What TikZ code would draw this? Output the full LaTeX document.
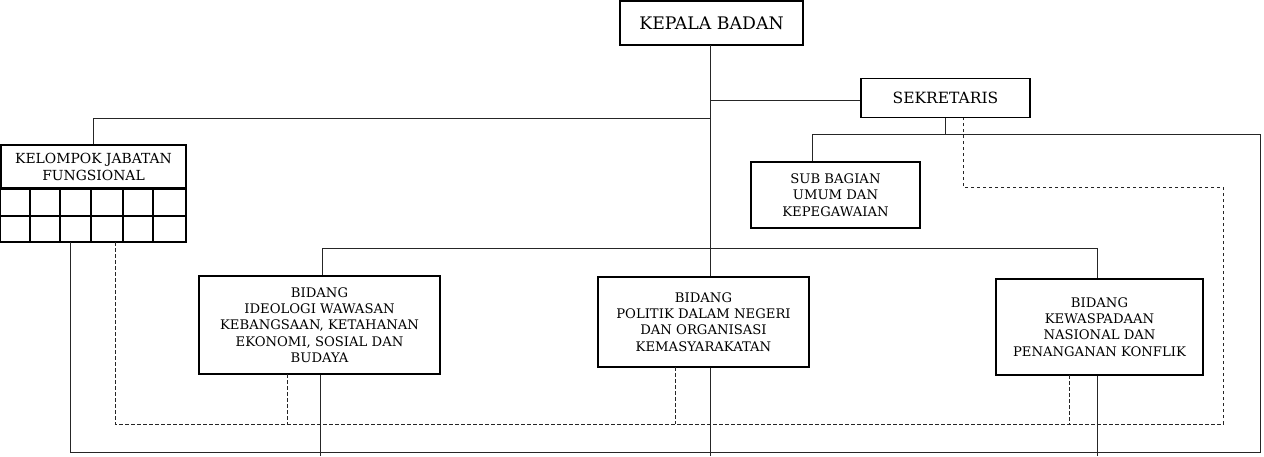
\documentclass[tikz,border=0pt]{standalone}
\usepackage{fontspec}
\setmainfont{DejaVu Serif}
\begin{document}
\begin{tikzpicture}[x=1pt,y=-1pt,
  box/.style={draw=black,line width=1.6pt,inner sep=0pt,align=center,font=\fontsize{13.2}{16.3}\selectfont},
  ln/.style={draw=black!85,line width=0.9pt},
  dl/.style={draw=black!85,line width=0.9pt,dash pattern=on 3.5pt off 2.5pt}]
\useasboundingbox (0,0) rectangle (1264,456);
% boxes
\node[box,minimum width=183pt,minimum height=44pt,font=\fontsize{17.3}{20}\selectfont] (kepala) at (711.5,23) {KEPALA BADAN};
\node[box,minimum width=169pt,minimum height=39pt,font=\fontsize{15.5}{18}\selectfont] (sek) at (945.5,98) {SEKRETARIS};
\node[box,minimum width=185pt,minimum height=43pt,font=\fontsize{13.9}{17}\selectfont] (klp) at (93.5,166.5) {KELOMPOK JABATAN\\FUNGSIONAL};
\node[box,minimum width=169pt,minimum height=66pt] (sub) at (835.5,195) {SUB BAGIAN\\UMUM DAN\\KEPEGAWAIAN};
\node[box,minimum width=241pt,minimum height=98pt] (b1) at (319.5,325) {BIDANG\\IDEOLOGI WAWASAN\\KEBANGSAAN, KETAHANAN\\EKONOMI, SOSIAL DAN\\BUDAYA};
\node[box,minimum width=211pt,minimum height=90pt] (b2) at (703.5,322) {BIDANG\\POLITIK DALAM NEGERI\\DAN ORGANISASI\\KEMASYARAKATAN};
\node[box,minimum width=207pt,minimum height=96pt] (b3) at (1099.5,327) {BIDANG\\KEWASPADAAN\\NASIONAL DAN\\PENANGANAN KONFLIK};
% grid under KELOMPOK
\draw[line width=1.6pt] (klp.south west) rectangle (186,242);
\draw[line width=1.6pt] (1,216) -- (186,216);
\foreach \gx in {30,60,91,123,153} \draw[line width=1.6pt] (\gx,188) -- (\gx,242);
% coordinates
\coordinate (mtop) at (710,45);
\coordinate (jk) at (710,118);
\coordinate (js) at (710,100);
\coordinate (s1) at (812,134);
\coordinate (rc) at (1260,134);
\coordinate (rb) at (1260,452);
\coordinate (lb) at (70,452);
\coordinate (kl) at (70,242);
\coordinate (hb1) at (322,248);
\coordinate (hb3) at (1097,248);
\coordinate (b1d) at (320,456);
\coordinate (b2d) at (710,456);
\coordinate (b3d) at (1097,456);
\coordinate (dk) at (115,242);
\coordinate (d1) at (115,424);
\coordinate (d2) at (1223,424);
\coordinate (d3) at (1223,187);
\coordinate (d4) at (963,187);
\coordinate (d5) at (963,118);
% solid connectors
\draw[ln] (mtop) -- (mtop |- b2.north);
\draw[ln] (js) -- (sek.west |- js);
\draw[ln] (jk) -| (klp.north);
\draw[ln] (sek.south -| 945,0) -- (945,134);
\draw[ln] (s1) -- (rc) -- (rb) -- (lb) -- (kl);
\draw[ln] (s1) -- (s1 |- sub.north);
\draw[ln] (hb1 |- b1.north) -- (hb1) -- (hb3) -- (hb3 |- b3.north);
\draw[ln] (b1d |- b1.south) -- (b1d);
\draw[ln] (b2d |- b2.south) -- (b2d);
\draw[ln] (b3d |- b3.south) -- (b3d);
% dashed connectors
\draw[dl] (dk) -- (d1) -- (d2) -- (d3) -- (d4) -- (d5);
\draw[dl] (287,374) -- (287,424);
\draw[dl] (675,367) -- (675,424);
\draw[dl] (1069,375) -- (1069,424);
\end{tikzpicture}
\end{document}
